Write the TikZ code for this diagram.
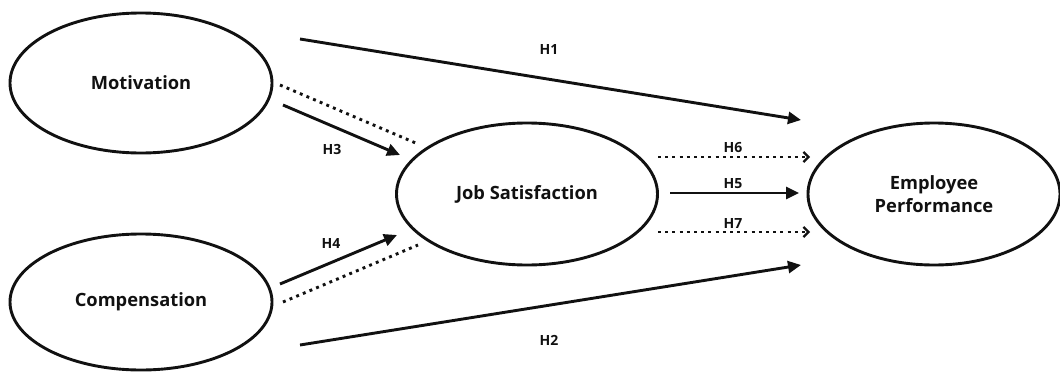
\documentclass[tikz,border=0pt]{standalone}
\usepackage{fontspec}
\setmainfont{Open Sans}
\usetikzlibrary{arrows.meta,shapes.geometric}
\definecolor{ink}{HTML}{111111}
\begin{document}
\begin{tikzpicture}[x=1pt,y=-1pt,
  var/.style={draw=ink, ellipse, line width=2.9pt, inner sep=0pt, text=ink,
    font=\bfseries\fontsize{18.3}{23}\selectfont, align=center},
  solidarrow/.style={draw=ink, line width=2.9pt, -{Triangle[length=13pt,width=12pt]}},
  dotline/.style={draw=ink, line width=2.9pt, dash pattern=on 2.9pt off 4.3pt},
  dotarrow/.style={dotline, -{Straight Barb[length=5pt,width=10pt,line width=2.3pt]}},
  hlab/.style={text=ink, font=\bfseries\fontsize{14}{17}\selectfont, inner sep=1pt}
]
\useasboundingbox (0,0) rectangle (1060,372);

\node[var, minimum width=262pt, minimum height=140pt] (mot) at (141,83) {Motivation};
\node[var, minimum width=262pt, minimum height=136pt] (comp) at (141,302) {Compensation};
\node[var, minimum width=261pt, minimum height=142pt] (job) at (527,194) {Job Satisfaction};
\node[var, minimum width=252pt, minimum height=142pt] (emp) at (934,194) {Employee\\Performance};

% endpoints
\coordinate (h1s) at (300,39);  \coordinate (h1e) at (801,120);
\coordinate (h2s) at (300,345); \coordinate (h2e) at (801,265);
\coordinate (h3s) at (283,105); \coordinate (h3e) at (400,155);
\coordinate (d1s) at (280,85);  \coordinate (d1e) at (418,144);
\coordinate (h4s) at (280,284); \coordinate (h4e) at (397,235);
\coordinate (d2s) at (283,302); \coordinate (d2e) at (418,245);
\coordinate (h6s) at (658,157); \coordinate (h6e) at (810,157);
\coordinate (h5s) at (670,193); \coordinate (h5e) at (799,193);
\coordinate (h7s) at (658,232); \coordinate (h7e) at (810,232);

\draw[solidarrow] (h1s) -- (h1e);
\draw[solidarrow] (h2s) -- (h2e);
\draw[solidarrow] (h3s) -- (h3e);
\draw[solidarrow] (h4s) -- (h4e);
\draw[dotline] (d1s) -- (d1e);
\draw[dotline] (d2s) -- (d2e);
\draw[dotarrow] (h6s) -- (h6e);
\draw[solidarrow] (h5s) -- (h5e);
\draw[dotarrow] (h7s) -- (h7e);

\node[hlab] (l1) at (549,50) {H1};
\node[hlab] (l2) at (549,340) {H2};
\node[hlab] (l3) at (332,149) {H3};
\node[hlab] (l4) at (331,243) {H4};
\node[hlab] (l6) at (733,148) {H6};
\node[hlab] (l5) at (733,184) {H5};
\node[hlab] (l7) at (733,224) {H7};
\end{tikzpicture}
\end{document}
